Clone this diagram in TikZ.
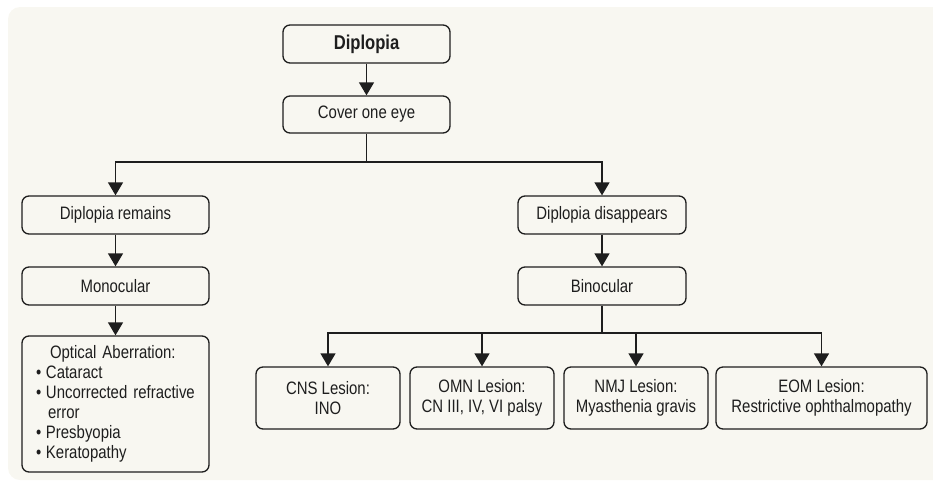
\documentclass[tikz,border=0pt]{standalone}
\usepackage{fontspec}
\setmainfont{Liberation Sans}[FakeStretch=0.83]
\usetikzlibrary{arrows.meta}
\definecolor{bgc}{RGB}{248,247,241}
\definecolor{ink}{RGB}{30,30,30}
\tikzset{
  box/.style={draw=ink, line width=1.3pt, rounded corners=7pt, align=center, inner sep=0pt,
    text=ink, font=\fontsize{18}{20}\selectfont},
  arr/.style={draw=ink, line width=1.3pt, -{Triangle[length=13pt,width=15pt]}},
  ln/.style={draw=ink, line width=1.3pt}
}
\begin{document}
\begin{tikzpicture}[x=1pt,y=-1pt]
\useasboundingbox (0,0) rectangle (933,482);
\fill[bgc, rounded corners=12pt] (960,7) -- (8,7) -- (8,480) -- (960,480) -- cycle;
\node[box, minimum width=167, minimum height=38, font=\fontsize{20}{22}\selectfont\bfseries] (dip) at (366.5,44) {Diplopia};
\node[box, minimum width=167, minimum height=37] (cover) at (366.5,114.5) {Cover one eye};
\node[box, minimum width=187, minimum height=38] (rem) at (115.5,215) {Diplopia remains};
\node[box, minimum width=168, minimum height=38] (dis) at (602,215) {Diplopia disappears};
\node[box, minimum width=187, minimum height=38] (mono) at (115.5,286) {Monocular};
\node[box, minimum width=168, minimum height=38] (bino) at (602,286) {Binocular};
\node[box, minimum width=187, minimum height=136, text width=159, inner xsep=14pt, align=left] (opt) at (115.5,404)
  {\hspace*{14pt}Optical Aberration:\\
   \makebox[10pt][l]{\textbullet}Cataract\\
   \makebox[10pt][l]{\textbullet}Uncorrected refractive\\
   \hspace*{12pt}error\\
   \makebox[10pt][l]{\textbullet}Presbyopia\\
   \makebox[10pt][l]{\textbullet}Keratopathy};
\node[box, minimum width=144, minimum height=62] (cns) at (328,398) {CNS Lesion:\\INO};
\node[box, minimum width=144, minimum height=62] (omn) at (482,398) {OMN Lesion:\\CN III, IV, VI palsy};
\node[box, minimum width=144, minimum height=62] (nmj) at (636,398) {NMJ Lesion:\\Myasthenia gravis};
\node[box, minimum width=211, minimum height=62] (eom) at (821.5,398) {EOM Lesion:\\Restrictive ophthalmopathy};
\coordinate (j1) at (366.5,162);
\coordinate (j2) at (602,333);
\draw[arr] (dip) -- (cover);
\draw[ln] (cover.south) -- (j1);
\draw[arr] (j1) -| (rem.north);
\draw[arr] (j1) -| (dis.north);
\draw[arr] (rem) -- (mono);
\draw[arr] (dis) -- (bino);
\draw[arr] (mono) -- (opt);
\draw[ln] (bino.south) -- (j2);
\draw[arr] (j2) -| (cns.north);
\draw[arr] (j2) -| (omn.north);
\draw[arr] (j2) -| (nmj.north);
\draw[arr] (j2) -| (eom.north);
\end{tikzpicture}
\end{document}
